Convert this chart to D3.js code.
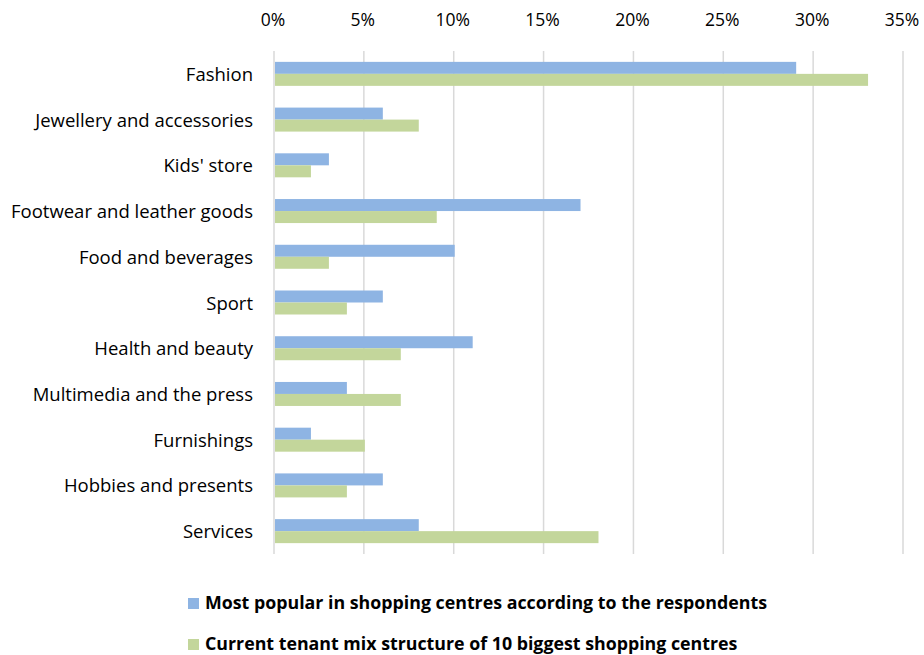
<!DOCTYPE html>
<html>
<head>
<meta charset="utf-8">
<script src="https://cdn.jsdelivr.net/npm/d3@7"></script>
<style>
  body { margin: 0; background: #fff; }
  svg text { font-family: "Open Sans", sans-serif; fill: #000; }
</style>
</head>
<body>
<div class="chart"></div>
<script>
var categories = ["Fashion", "Jewellery and accessories", "Kids' store", "Footwear and leather goods",
  "Food and beverages", "Sport", "Health and beauty", "Multimedia and the press",
  "Furnishings", "Hobbies and presents", "Services"];
var popular = [29, 6, 3, 17, 10, 6, 11, 4, 2, 6, 8];
var tenantMix = [33, 8, 2, 9, 3, 4, 7, 7, 5, 4, 18];
var seriesNames = ["Most popular in shopping centres according to the respondents",
  "Current tenant mix structure of 10 biggest shopping centres"];
var ticks = [0, 5, 10, 15, 20, 25, 30, 35];
var colors = ["#8eb4e3", "#c3d69b"];

var width = 924, height = 655;
var margin = { top: 51, right: 20, bottom: 101, left: 275 };

var svg = d3.select(".chart")
  .append("svg")
  .attr("width", width)
  .attr("height", height);

var x = d3.scaleLinear()
  .domain([0, 35])
  .range([margin.left, 904]);

var y = d3.scaleBand()
  .domain(categories)
  .range([margin.top, height - margin.bottom]);

// gridlines
svg.append("g")
  .selectAll("line")
  .data(ticks)
  .enter()
  .append("line")
  .attr("x1", d => x(d) - 1)
  .attr("x2", d => x(d) - 1)
  .attr("y1", margin.top)
  .attr("y2", height - margin.bottom)
  .attr("stroke", "#d9d9d9")
  .attr("stroke-width", 1.5);

// top axis labels
svg.append("g")
  .selectAll("text")
  .data(ticks)
  .enter()
  .append("text")
  .attr("x", d => x(d) - 2)
  .attr("y", 26)
  .attr("text-anchor", "middle")
  .style("font-size", "17.5px")
  .text(d => d + "%");

// category labels
svg.append("g")
  .selectAll("text")
  .data(categories)
  .enter()
  .append("text")
  .attr("x", 253)
  .attr("y", d => y(d) + y.bandwidth() / 2 + 7)
  .attr("text-anchor", "end")
  .style("font-size", "18.5px")
  .text(d => d);

var barH = 12;
var series = [popular, tenantMix];

series.forEach(function (vals, s) {
  svg.append("g")
    .selectAll("rect")
    .data(categories)
    .enter()
    .append("rect")
    .attr("x", x(0))
    .attr("y", (d, i) => y(d) + y.bandwidth() / 2 - barH + s * barH)
    .attr("width", (d, i) => x(vals[i]) - x(0))
    .attr("height", barH)
    .attr("fill", colors[s]);
});

// legend
var legend = svg.append("g")
  .selectAll("g")
  .data(seriesNames)
  .enter()
  .append("g")
  .attr("transform", (d, i) => "translate(188," + (598 + i * 41) + ")");

legend.append("rect")
  .attr("width", 11)
  .attr("height", 11)
  .attr("fill", (d, i) => colors[i]);

legend.append("text")
  .attr("x", 17)
  .attr("y", 11)
  .style("font-size", "17.8px")
  .style("font-weight", "bold")
  .text(d => d);
</script>
</body>
</html>
